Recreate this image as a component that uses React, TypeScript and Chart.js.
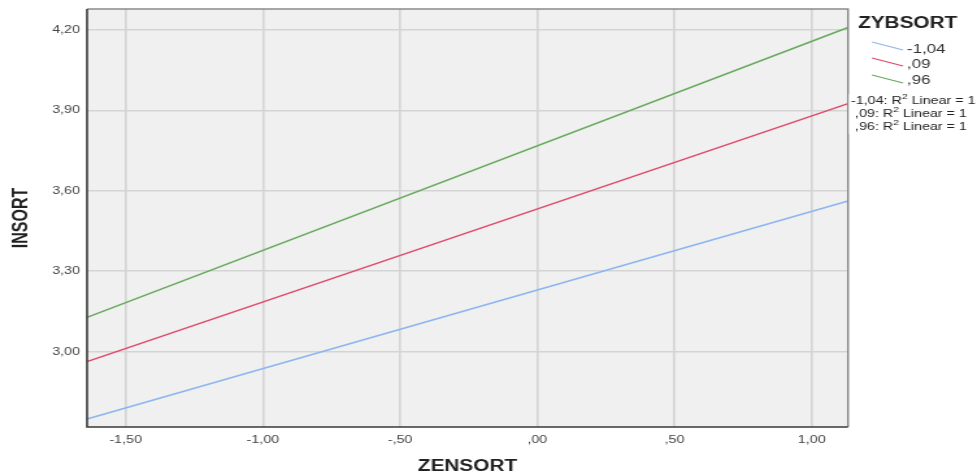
import React, { useEffect, useRef } from "react";
import { Chart, registerables } from "chart.js";

Chart.register(...registerables);

const groups = ["-1,04", ",09", ",96"];
const groupColors = ["#8db6ee", "#e04a6a", "#68aa5e"];
const lineX = [-1.641, 1.132];
const blueY = [2.749, 3.562];
const redY = [2.963, 3.925];
const greenY = [3.128, 4.209];
const seriesY = [blueY, redY, greenY];

const xTicks = [-1.5, -1.0, -0.5, 0.0, 0.5, 1.0];
const xTickLabels = ["-1,50", "-1,00", "-,50", ",00", ",50", "1,00"];
const yTicks = [3.0, 3.3, 3.6, 3.9, 4.2];
const yTickLabels = ["3,00", "3,30", "3,60", "3,90", "4,20"];

const xRange = [-1.641, 1.132];
const yRange = [2.719, 4.278];

const FONT = "'Liberation Sans', Arial, sans-serif";

// the picture is horizontally stretched: canvas drawn narrower, shown at full width
const PAGE_W = 977;
const PAGE_H = 476;
const CANVAS_W = 752;
const SX = PAGE_W / CANVAS_W;
const px = (x: number) => x / SX;

const decorPlugin = {
  id: "decor",
  beforeDraw(chart: any) {
    const { ctx, chartArea: a } = chart;
    ctx.save();
    ctx.fillStyle = "#f0f0f0";
    ctx.fillRect(a.left, a.top, a.right - a.left, a.bottom - a.top);
    ctx.restore();
  },
  afterDraw(chart: any) {
    const { ctx, chartArea: a } = chart;
    ctx.save();
    // frame
    ctx.strokeStyle = "#8a8a8a";
    ctx.lineWidth = 1.5;
    ctx.beginPath();
    ctx.moveTo(a.left, a.top);
    ctx.lineTo(a.right, a.top);
    ctx.lineTo(a.right, a.bottom);
    ctx.stroke();
    ctx.strokeStyle = "#3a3a3a";
    ctx.lineWidth = 1.6;
    ctx.beginPath();
    ctx.moveTo(a.left, a.top);
    ctx.lineTo(a.left, a.bottom);
    ctx.lineTo(a.right, a.bottom);
    ctx.stroke();

    // legend
    ctx.fillStyle = "#222";
    ctx.font = `bold 16px ${FONT}`;
    ctx.textAlign = "left";
    ctx.textBaseline = "middle";
    ctx.fillText("ZYBSORT", px(858), 24);
    const ys = [46, 62, 79];
    const tys = [49, 64, 80];
    ctx.font = `13px ${FONT}`;
    groups.forEach((g, i) => {
      ctx.strokeStyle = groupColors[i];
      ctx.lineWidth = 1.3;
      ctx.beginPath();
      ctx.moveTo(px(872), ys[i] - 4);
      ctx.lineTo(px(903), ys[i] + 4);
      ctx.stroke();
      ctx.fillStyle = "#333";
      ctx.fillText(g, px(907), tys[i]);
    });

    // R2 labels
    ctx.fillStyle = "#ffffff";
    ctx.fillRect(px(849), 94, px(977) - px(849), 40);
    const rys = [101, 114, 127];
    const rxs = [851, 855, 855];
    groups.forEach((g, i) => {
      let x = px(rxs[i]);
      ctx.fillStyle = "#222";
      ctx.font = `11px ${FONT}`;
      ctx.textBaseline = "middle";
      const a1 = `${g}: R`;
      ctx.fillText(a1, x, rys[i]);
      x += ctx.measureText(a1).width;
      ctx.font = `8px ${FONT}`;
      ctx.fillText("2", x, rys[i] - 4);
      x += ctx.measureText("2").width;
      ctx.font = `11px ${FONT}`;
      ctx.fillText(" Linear = 1", x, rys[i]);
    });
    ctx.restore();
  },
};

export default function App() {
  const ref = useRef<HTMLCanvasElement>(null);
  useEffect(() => {
    document.body.style.margin = "0";
    const canvas = ref.current!;
    const chart = new Chart(canvas, {
      type: "line",
      data: {
        datasets: groups.map((g, i) => ({
          label: g,
          data: lineX.map((x, j) => ({ x, y: seriesY[i][j] })),
          borderColor: groupColors[i],
          borderWidth: 1.5,
          pointRadius: 0,
          fill: false,
          tension: 0,
        })),
      },
      options: {
        responsive: false,
        animation: false,
        devicePixelRatio: 1,
        layout: { padding: { left: 0, right: CANVAS_W - px(848), top: 9, bottom: 0 } },
        plugins: { legend: { display: false }, tooltip: { enabled: false } },
        scales: {
          x: {
            type: "linear",
            min: xRange[0],
            max: xRange[1],
            afterBuildTicks: (s: any) => {
              s.ticks = xTicks.map((v) => ({ value: v }));
            },
            afterFit: (s: any) => {
              s.height = PAGE_H - 427;
              s.paddingLeft = 0;
              s.paddingRight = 0;
            },
            ticks: {
              padding: 6,
              autoSkip: false,
              maxRotation: 0,
              color: "#444",
              font: { family: FONT, size: 11 },
              callback: (v: any) => {
                const i = xTicks.findIndex((t) => Math.abs(t - v) < 1e-6);
                return i >= 0 ? xTickLabels[i] : "";
              },
            },
            grid: { color: "#d4d4d4", lineWidth: 1.6, drawTicks: false },
            border: { display: false },
            title: {
              display: true,
              text: "ZENSORT",
              color: "#222",
              font: { family: FONT, size: 16, weight: "bold" },
              padding: { top: 0, bottom: 0 },
            },
          },
          y: {
            type: "linear",
            min: yRange[0],
            max: yRange[1],
            afterBuildTicks: (s: any) => {
              s.ticks = yTicks.map((v) => ({ value: v }));
            },
            afterFit: (s: any) => {
              s.width = px(87);
              s.paddingTop = 0;
              s.paddingBottom = 0;
            },
            ticks: {
              padding: px(7),
              autoSkip: false,
              color: "#444",
              font: { family: FONT, size: 11 },
              callback: (v: any) => {
                const i = yTicks.findIndex((t) => Math.abs(t - v) < 1e-6);
                return i >= 0 ? yTickLabels[i] : "";
              },
            },
            grid: { color: "#d4d4d4", lineWidth: 1.6, drawTicks: false },
            border: { display: false },
            title: {
              display: true,
              text: "INSORT",
              color: "#222",
              font: { family: FONT, size: 16, weight: "bold" },
              padding: { top: px(21.5) - 9.6, bottom: 0 },
            },
          },
        },
      } as any,
      plugins: [decorPlugin],
    });
    return () => chart.destroy();
  }, []);
  return (
    <canvas
      ref={ref}
      width={CANVAS_W}
      height={PAGE_H}
      style={{ display: "block", width: PAGE_W, height: PAGE_H }}
    />
  );
}
